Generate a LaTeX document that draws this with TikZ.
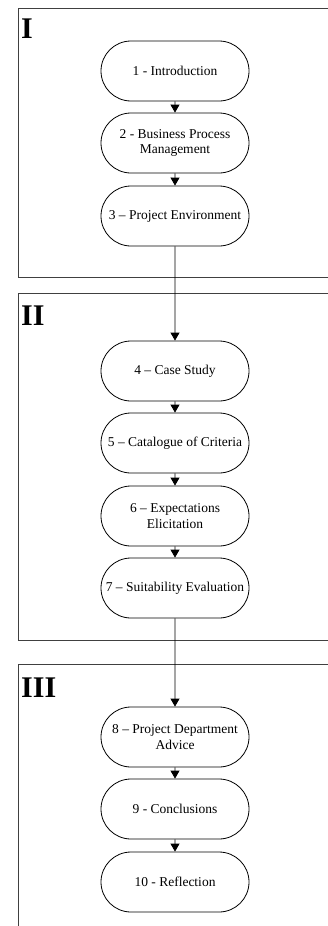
\documentclass[tikz,border=0pt]{standalone}
\usepackage{fontspec}
\setmainfont{Liberation Serif}
\usetikzlibrary{shapes.misc,arrows.meta}
\begin{document}
\begin{tikzpicture}[x=1pt,y=-1pt,
  phase/.style={draw=black!75,line width=0.9pt},
  phaselabel/.style={anchor=base west,inner sep=0pt,font=\fontsize{30}{30}\selectfont\bfseries},
  chapter/.style={draw,rounded rectangle,line width=0.8pt,minimum width=150pt,minimum height=60pt,
    inner sep=1pt,align=center,font=\fontsize{13.5}{15.5}\selectfont},
  flow/.style={line width=0.8pt,-{Triangle[length=8pt,width=9pt]}}]
\useasboundingbox (0,0) rectangle (327,926);
% phase frames (open to the right; the last one open at the bottom)
\draw[phase] (340,8) -- (18,8) -- (18,277) -- (340,277);
\draw[phase] (340,293) -- (18,293) -- (18,640) -- (340,640);
\draw[phase] (340,664) -- (18,664) -- (18,940);
\node[phaselabel] (p1) at (21,38) {I};
\node[phaselabel] (p2) at (21,325) {II};
\node[phaselabel] (p3) at (21,697) {III};
% chapters
\node[chapter] (c1) at (175,71) {1 - Introduction};
\node[chapter] (c2) at (175,143) {2 - Business Process\\Management};
\node[chapter] (c3) at (175,216) {3 -- Project Environment};
\node[chapter] (c4) at (175,371) {4 -- Case Study};
\node[chapter] (c5) at (175,443) {5 -- Catalogue of Criteria};
\node[chapter] (c6) at (175,516) {6 -- Expectations\\Elicitation};
\node[chapter] (c7) at (175,588) {7 -- Suitability Evaluation};
\node[chapter] (c8) at (175,737) {8 -- Project Department\\Advice};
\node[chapter] (c9) at (175,809) {9 - Conclusions};
\node[chapter] (c10) at (175,882) {10 - Reflection};
% reading order
\foreach \a/\b in {c1/c2,c2/c3,c3/c4,c4/c5,c5/c6,c6/c7,c7/c8,c8/c9,c9/c10}
  \draw[flow] (\a) -- (\b);
\end{tikzpicture}
\end{document}
